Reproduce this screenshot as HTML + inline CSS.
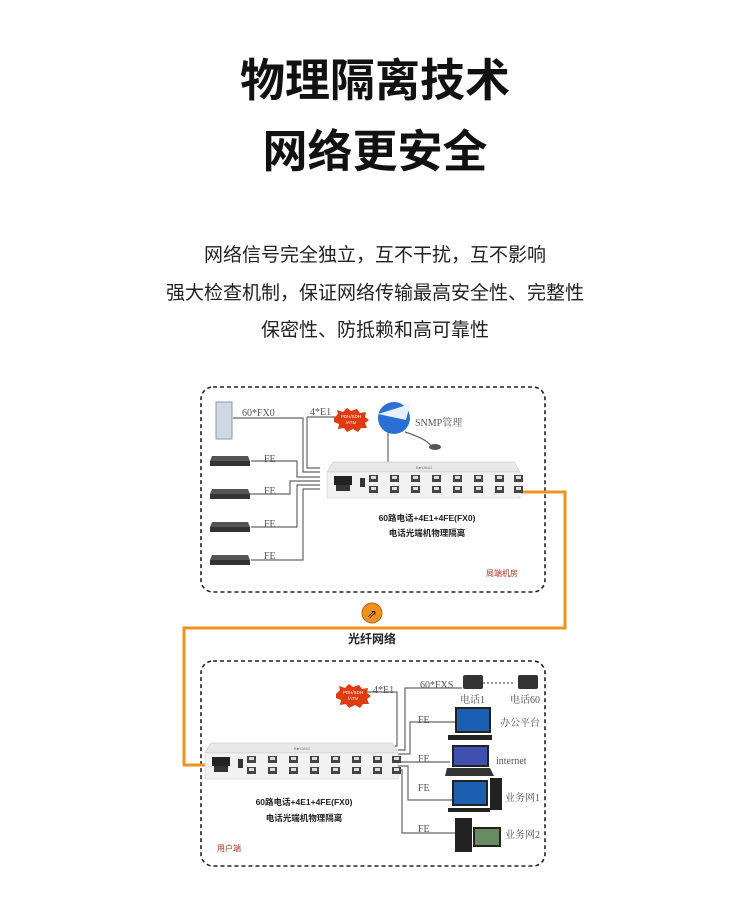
<!DOCTYPE html>
<html><head><meta charset="utf-8">
<style>
html,body{margin:0;padding:0;background:#fff;}
body{width:750px;height:900px;overflow:hidden;font-family:"Liberation Sans","Noto Sans CJK SC",sans-serif;}
</style></head><body>
<svg width="750" height="900" viewBox="0 0 750 900" xmlns="http://www.w3.org/2000/svg">
<defs>
<g id="port"><rect x="0" y="0" width="9" height="7" fill="#444"/><rect x="2" y="1" width="5" height="3" fill="#ddd"/></g>
<g id="dev">
 <polygon points="6,0 187,0 193,10 0,10" fill="#e8e8e8" stroke="#bbb" stroke-width="0.5"/>
 <rect x="0" y="10" width="193" height="26" fill="#f2f2f2" stroke="#ccc" stroke-width="0.5"/>
 <text x="97" y="7" font-size="4" text-anchor="middle" fill="#777">B●YANG</text>
 <rect x="7" y="14" width="18" height="9" fill="#222"/><rect x="9" y="23" width="14" height="6" fill="#333"/>
 <rect x="33" y="16" width="5" height="9" fill="#333"/>
 <use href="#port" x="42" y="13"/><use href="#port" x="63" y="13"/><use href="#port" x="84" y="13"/><use href="#port" x="105" y="13"/><use href="#port" x="126" y="13"/><use href="#port" x="147" y="13"/><use href="#port" x="168" y="13"/><use href="#port" x="187" y="13"/>
 <use href="#port" x="42" y="24"/><use href="#port" x="63" y="24"/><use href="#port" x="84" y="24"/><use href="#port" x="105" y="24"/><use href="#port" x="126" y="24"/><use href="#port" x="147" y="24"/><use href="#port" x="168" y="24"/><use href="#port" x="187" y="24"/>
</g>
<g id="sw"><polygon points="2,0 38,0 40,5 0,5" fill="#555"/><rect x="0" y="5" width="40" height="5" fill="#333"/></g>
<g id="burst"><polygon points="0,8 4,4 3,0 9,2 13,-2 17,1 23,-1 26,3 32,2 31,7 35,10 31,13 33,18 27,18 24,22 19,19 13,22 10,18 4,19 5,14 0,12" fill="#e03a10"/><text x="17" y="8" font-size="4.5" fill="#fff" text-anchor="middle">PDH/SDH</text><text x="17" y="14" font-size="4.5" fill="#fff" text-anchor="middle">/ATM</text></g>
</defs>

<g font-family="'Liberation Sans','Noto Sans CJK SC',sans-serif" fill="#111" text-anchor="middle">
<text x="375" y="96" font-size="45" font-weight="bold">物理隔离技术</text>
<text x="375" y="167" font-size="45" font-weight="bold">网络更安全</text>
<text x="375" y="261" font-size="19" fill="#222">网络信号完全独立，互不干扰，互不影响</text>
<text x="375" y="299" font-size="19" fill="#222">强大检查机制，保证网络传输最高安全性、完整性</text>
<text x="375" y="336" font-size="19" fill="#222">保密性、防抵赖和高可靠性</text>
</g>

<rect x="201" y="387" width="344" height="205" rx="12" fill="none" stroke="#222" stroke-width="1.6" stroke-dasharray="4,3"/>
<rect x="201" y="661" width="344" height="205" rx="12" fill="none" stroke="#222" stroke-width="1.6" stroke-dasharray="4,3"/>

<polyline points="521,492 565,492 565,628 184,628 184,765 205,765" fill="none" stroke="#f0901e" stroke-width="3"/>
<circle cx="372" cy="613" r="10" fill="#f0901e" stroke="#c06010" stroke-width="1"/>
<text x="372" y="618" font-size="12" text-anchor="middle" fill="#222">⇗</text>
<text x="372" y="643" font-size="12" text-anchor="middle" fill="#222" font-family="'Liberation Sans','Noto Sans CJK SC',sans-serif" font-weight="bold">光纤网络</text>

<g fill="none" stroke="#666" stroke-width="1.2">
<polyline points="233,418 303,418 303,472 320,472"/>
<polyline points="307,417 307,468 320,468"/>
<polyline points="307,417 335,417"/>
<polyline points="251,461 297,461 297,477 320,477"/>
<polyline points="246,494 290,494 290,481 320,481"/>
<polyline points="251,527 297,527 297,485 320,485"/>
<polyline points="251,560 303,560 303,489 320,489"/>
<polyline points="388,430 388,462"/>
<path d="M405,432 Q430,440 432,448"/>
</g>
<rect x="216" y="402" width="16" height="37" fill="#cfd8e2" stroke="#8899aa"/>
<use href="#sw" x="210" y="456"/><use href="#sw" x="210" y="489"/><use href="#sw" x="210" y="522"/><use href="#sw" x="210" y="555"/>
<use href="#burst" x="334" y="410"/>
<circle cx="394" cy="418" r="16" fill="#2a6fd6"/><path d="M378,414 L410,404 L406,420 Z" fill="#e8f0ff"/>
<ellipse cx="435" cy="447" rx="6" ry="3" fill="#555"/>
<g font-family="'Liberation Serif','Noto Serif CJK SC',serif" font-size="10" fill="#555">
<text x="242" y="416">60*FX0</text><text x="310" y="415">4*E1</text><text x="415" y="426">SNMP管理</text>
<text x="264" y="462">FE</text><text x="264" y="494">FE</text><text x="264" y="527">FE</text><text x="264" y="559">FE</text>
</g>
<use href="#dev" x="327" y="462"/>
<g font-family="'Liberation Sans','Noto Sans CJK SC',sans-serif" font-size="8.5" fill="#222" text-anchor="middle" font-weight="bold">
<text x="427" y="521">60路电话+4E1+4FE(FX0)</text><text x="427" y="536">电话光端机物理隔离</text>
</g>
<text x="486" y="576" font-size="8" fill="#b03020" font-family="'Liberation Sans','Noto Sans CJK SC',sans-serif">局端机房</text>

<g fill="none" stroke="#666" stroke-width="1.2">
<polyline points="366,692 397,692 397,746 395,746"/>
<polyline points="462,688 405,688 405,750 398,750"/>
<polyline points="455,722 410,722 410,754 398,754"/>
<polyline points="450,762 398,762"/>
<polyline points="455,800 408,800 408,766 398,766"/>
<polyline points="455,833 402,833 402,770 398,770"/>
</g>
<line x1="483" y1="683" x2="515" y2="683" stroke="#333" stroke-dasharray="2,2"/>
<use href="#burst" x="336" y="686"/>
<rect x="463" y="675" width="20" height="14" rx="2" fill="#333"/><rect x="518" y="675" width="20" height="14" rx="2" fill="#333"/>
<rect x="456" y="708" width="34" height="24" fill="#1c5fb0" stroke="#222" stroke-width="2"/><rect x="448" y="735" width="44" height="5" fill="#222"/>
<rect x="453" y="746" width="35" height="20" fill="#4050b0" stroke="#222" stroke-width="2"/><polygon points="447,768 490,768 494,776 445,776" fill="#333"/>
<rect x="453" y="781" width="34" height="24" fill="#1c5fb0" stroke="#222" stroke-width="2"/><rect x="490" y="778" width="12" height="32" fill="#222"/><rect x="448" y="808" width="42" height="4" fill="#222"/>
<rect x="455" y="818" width="17" height="34" fill="#222"/><rect x="474" y="828" width="26" height="18" fill="#6a8a60" stroke="#222" stroke-width="2"/>
<g font-family="'Liberation Serif','Noto Serif CJK SC',serif" font-size="10" fill="#555">
<text x="373" y="693">4*E1</text><text x="420" y="688">60*FXS</text>
<text x="460" y="703">电话1</text><text x="510" y="703">电话60</text>
<text x="418" y="723">FE</text><text x="418" y="762">FE</text><text x="418" y="791">FE</text><text x="418" y="832">FE</text>
<text x="500" y="726">办公平台</text><text x="496" y="764">internet</text><text x="505" y="801">业务网1</text><text x="505" y="838">业务网2</text>
</g>
<use href="#dev" x="205" y="743"/>
<g font-family="'Liberation Sans','Noto Sans CJK SC',sans-serif" font-size="8.5" fill="#222" text-anchor="middle" font-weight="bold">
<text x="304" y="805">60路电话+4E1+4FE(FX0)</text><text x="304" y="821">电话光端机物理隔离</text>
</g>
<text x="217" y="851" font-size="8" fill="#b03020" font-family="'Liberation Sans','Noto Sans CJK SC',sans-serif">用户端</text>
</svg>
</body></html>
